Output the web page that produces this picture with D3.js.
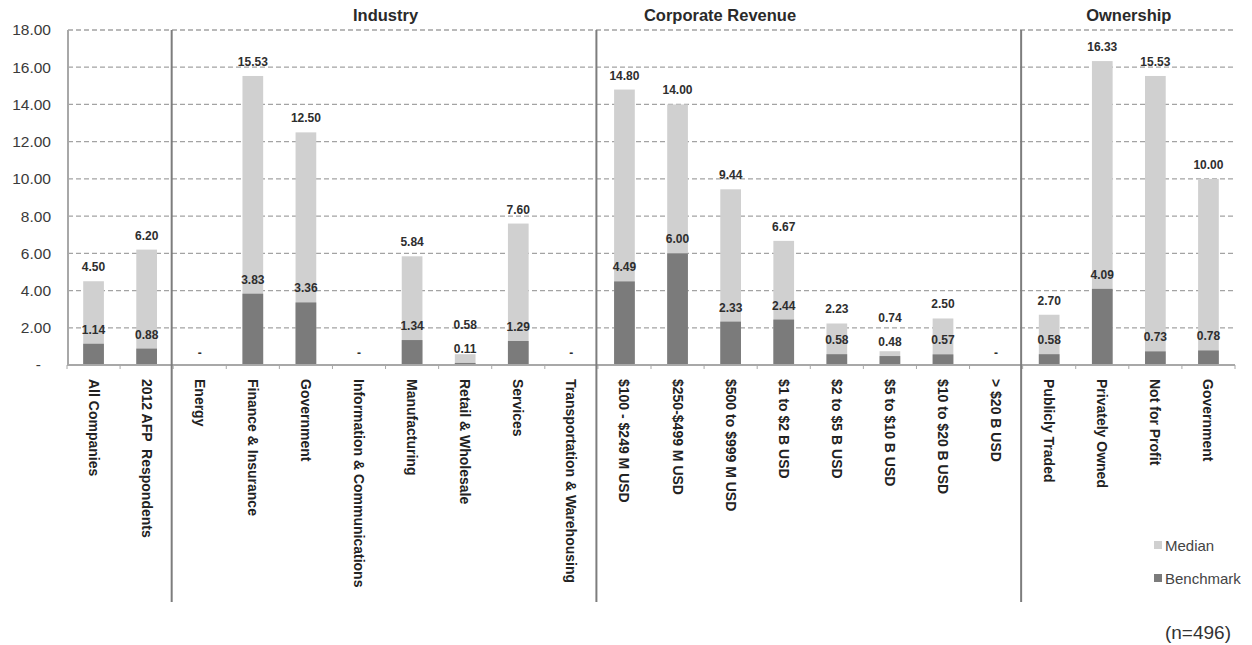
<!DOCTYPE html>
<html>
<head>
<meta charset="utf-8">
<script src="https://cdn.jsdelivr.net/npm/d3@7"></script>
<style>
  html, body { margin: 0; padding: 0; background: #fff; }
  svg { display: block; font-family: "Liberation Sans", Arial, Helvetica, sans-serif; }
</style>
</head>
<body>
<svg id="chart" width="1252" height="645"></svg>
<script>
// Days (median vs. benchmark) by respondent segment
const categories = [
  "All Companies", "2012 AFP  Respondents",
  "Energy", "Finance & Insurance", "Government", "Information & Communications",
  "Manufacturing", "Retail & Wholesale", "Services", "Transportation & Warehousing",
  "$100 - $249 M USD", "$250-$499 M USD", "$500 to $999 M USD", "$1 to $2 B USD",
  "$2 to $5 B USD", "$5 to $10 B USD", "$10 to $20 B USD", "> $20 B USD",
  "Publicly Traded", "Privately Owned", "Not for Profit", "Government"
];
const median = [
  4.50, 6.20,
  null, 15.53, 12.50, null, 5.84, 0.58, 7.60, null,
  14.80, 14.00, 9.44, 6.67, 2.23, 0.74, 2.50, null,
  2.70, 16.33, 15.53, 10.00
];
const benchmark = [
  1.14, 0.88,
  null, 3.83, 3.36, null, 1.34, 0.11, 1.29, null,
  4.49, 6.00, 2.33, 2.44, 0.58, 0.48, 0.57, null,
  0.58, 4.09, 0.73, 0.78
];
// Segment groups: name and [first, end) category index
const groupNames = ["", "Industry", "Corporate Revenue", "Ownership"];
const groupStart = [0, 2, 10, 18];
const groupEnd   = [2, 10, 18, 22];
const yTicks = [0, 2, 4, 6, 8, 10, 12, 14, 16, 18];
const seriesNames = ["Median", "Benchmark"];
const footnote = "(n=496)";

const colors = { Median: "#d0d0d0", Benchmark: "#7b7b7b" };

const svg = d3.select("#chart");
const plot = { left: 67, right: 1235, top: 30, bottom: 365 };

const x = d3.scaleBand()
  .domain(d3.range(categories.length))
  .range([plot.left, plot.right])
  .paddingInner(0.61)
  .paddingOuter(0.305);
const step = x.step();
const cx = i => x(i) + x.bandwidth() / 2;
const edge = i => plot.left + step * i;

const y = d3.scaleLinear().domain([0, 18]).range([plot.bottom, plot.top]);

// Dashed horizontal gridlines
svg.append("g")
  .selectAll("line")
  .data(yTicks.filter(d => d > 0))
  .join("line")
  .attr("x1", plot.left + 1).attr("x2", plot.right)
  .attr("y1", d => y(d)).attr("y2", d => y(d))
  .attr("stroke", "#a3a3a3").attr("stroke-width", 1.3)
  .attr("stroke-dasharray", "5,3");

// Y axis labels
const yAxis = d3.axisLeft(y).tickValues(yTicks)
  .tickFormat(d => d === 0 ? "-" : d3.format(".2f")(d))
  .tickSize(0).tickPadding(0);
const gy = svg.append("g").attr("transform", `translate(${plot.left - 16},0)`).call(yAxis);
gy.select(".domain").remove();
gy.selectAll("text")
  .attr("font-size", 15.5).attr("fill", "#3a3a3a")
  .attr("font-family", "Liberation Sans, Arial, sans-serif");
gy.selectAll(".tick").filter(d => d === 0).select("text").attr("dx", -10);

// Y axis line
svg.append("line")
  .attr("x1", plot.left + 1).attr("x2", plot.left + 1)
  .attr("y1", plot.top).attr("y2", plot.bottom)
  .attr("stroke", "#a8a8a8").attr("stroke-width", 2);

// Bars: median behind, benchmark in front
const idx = d3.range(categories.length);
svg.append("g").selectAll("rect")
  .data(idx.filter(i => median[i] != null))
  .join("rect")
  .attr("x", i => x(i)).attr("width", x.bandwidth())
  .attr("y", i => y(median[i])).attr("height", i => y(0) - y(median[i]))
  .attr("fill", colors.Median);
svg.append("g").selectAll("rect")
  .data(idx.filter(i => benchmark[i] != null))
  .join("rect")
  .attr("x", i => x(i)).attr("width", x.bandwidth())
  .attr("y", i => y(benchmark[i])).attr("height", i => y(0) - y(benchmark[i]))
  .attr("fill", colors.Benchmark);

// X axis line and boundary ticks
svg.append("line")
  .attr("x1", plot.left).attr("x2", plot.right)
  .attr("y1", plot.bottom).attr("y2", plot.bottom)
  .attr("stroke", "#a8a8a8").attr("stroke-width", 2);
svg.append("g").selectAll("line")
  .data(d3.range(categories.length + 1))
  .join("line")
  .attr("x1", i => edge(i)).attr("x2", i => edge(i))
  .attr("y1", plot.bottom).attr("y2", plot.bottom + 4)
  .attr("stroke", "#a8a8a8").attr("stroke-width", 1);

// Group separators
svg.append("g").selectAll("line")
  .data(groupStart.slice(1))
  .join("line")
  .attr("x1", i => edge(i) - 1.5).attr("x2", i => edge(i) - 1.5)
  .attr("y1", plot.top).attr("y2", 602)
  .attr("stroke", "#7d7d7d").attr("stroke-width", 2);

// Group titles
const titleShift = { "Corporate Revenue": -1.7 * step };
svg.append("g").selectAll("text")
  .data(groupNames.map((n, g) => ({ n, g })).filter(d => d.n))
  .join("text")
  .attr("x", d => (edge(groupStart[d.g]) + edge(groupEnd[d.g])) / 2 + (titleShift[d.n] || 0))
  .attr("y", 21)
  .attr("text-anchor", "middle")
  .attr("font-size", 16.5).attr("font-weight", "bold").attr("fill", "#2a2a2a")
  .text(d => d.n);

// Value labels
const fmt = d3.format(".2f");
const labelFont = 12;
const benchLabelY = i => y(benchmark[i]) - 10;
const medLabelY = i => {
  let ly = y(median[i]) - 10;
  if (benchmark[i] != null && benchLabelY(i) - ly < 18) ly = benchLabelY(i) - 24;
  return ly;
};
const labels = svg.append("g")
  .attr("font-size", labelFont).attr("font-weight", "bold")
  .attr("fill", "#2e2e2e").attr("text-anchor", "middle");
labels.selectAll("text.med")
  .data(idx.filter(i => median[i] != null))
  .join("text").attr("class", "med")
  .attr("x", cx).attr("y", medLabelY)
  .text(i => fmt(median[i]));
labels.selectAll("text.bench")
  .data(idx.filter(i => benchmark[i] != null))
  .join("text").attr("class", "bench")
  .attr("x", cx).attr("y", benchLabelY)
  .text(i => fmt(benchmark[i]));
labels.selectAll("text.none")
  .data(idx.filter(i => median[i] == null))
  .join("text").attr("class", "none")
  .attr("x", cx).attr("y", y(0) - 8)
  .text("-");

// Category labels, rotated to read downward
svg.append("g").selectAll("text")
  .data(idx)
  .join("text")
  .attr("transform", i => `translate(${cx(i)},${plot.bottom + 14}) rotate(90)`)
  .attr("dominant-baseline", "central")
  .attr("font-size", 14).attr("font-weight", "bold").attr("fill", "#222")
  .attr("xml:space", "preserve")
  .style("white-space", "pre")
  .text(i => categories[i]);

// Legend
const legend = svg.append("g").attr("transform", "translate(1154,545)");
seriesNames.forEach((s, k) => {
  const g = legend.append("g").attr("transform", `translate(0,${k * 33})`);
  g.append("rect").attr("x", 0).attr("y", -4).attr("width", 8).attr("height", 8)
    .attr("fill", colors[s]);
  g.append("text").attr("x", 11).attr("y", 0).attr("dominant-baseline", "central")
    .attr("font-size", 15).attr("fill", "#444").text(s);
});

// Sample size note
svg.append("text")
  .attr("x", 1231).attr("y", 639)
  .attr("text-anchor", "end")
  .attr("font-size", 19).attr("fill", "#333")
  .text(footnote);
</script>
</body>
</html>
